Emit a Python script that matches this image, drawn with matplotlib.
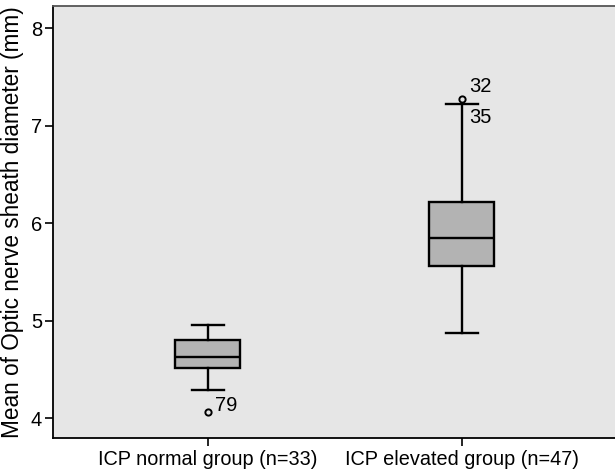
import matplotlib
matplotlib.use("Agg")
import matplotlib.pyplot as plt

plt.rcParams['font.family'] = ['Liberation Sans', 'DejaVu Sans']

# values
groups = ["ICP normal group (n=33)", "ICP elevated group (n=47)"]
whislo = [4.29, 4.87]
q1 = [4.515, 5.557]
med = [4.63, 5.845]
q3 = [4.80, 6.22]
whishi = [4.96, 7.227]
fliers = [[4.06], [7.28]]
flier_ids = [["79"], ["32", "35"]]
flier_id_y = [[4.13], [7.40, 7.09]]

stats = []
for i in range(len(groups)):
    stats.append({'whislo': whislo[i], 'q1': q1[i], 'med': med[i], 'q3': q3[i],
                  'whishi': whishi[i], 'fliers': fliers[i], 'label': groups[i]})

fig = plt.figure(figsize=(6.15, 4.74), dpi=100)
ax = fig.add_axes([0.0862, 0.076, 0.9138, 0.911])
ax.set_facecolor('#e6e6e6')

ax.bxp(stats, positions=[1, 2], widths=0.256, patch_artist=True,
       boxprops=dict(facecolor='#b3b3b3', edgecolor='black', linewidth=1.7),
       medianprops=dict(color='black', linewidth=1.7),
       whiskerprops=dict(color='black', linewidth=1.7),
       capprops=dict(color='black', linewidth=1.7),
       capwidths=0.126,
       flierprops=dict(marker='o', markersize=4.5, markerfacecolor='none',
                       markeredgecolor='black', markeredgewidth=1.4))

for i in range(len(groups)):
    for lab, yy in zip(flier_ids[i], flier_id_y[i]):
        ax.text(i + 1 + 0.028, yy, lab, fontsize=14.5, va='center', ha='left')

ax.set_xlim(0.390, 2.603)
ax.set_ylim(3.795, 8.229)
ax.set_yticks([4, 5, 6, 7, 8])
ax.tick_params(axis='both', length=6, width=1.2, direction='out', pad=2)
ax.tick_params(axis='y', labelsize=14.5)
ax.tick_params(axis='x', labelsize=14.3, pad=3)
ax.set_ylabel("Mean of Optic nerve sheath diameter (mm)", fontsize=16.3, labelpad=5)
for s in ['left', 'bottom', 'top']:
    ax.spines[s].set_linewidth(1.3)
ax.spines['top'].set_color('#555555')
ax.spines['right'].set_visible(False)

fig.savefig("out.png", dpi=100)
